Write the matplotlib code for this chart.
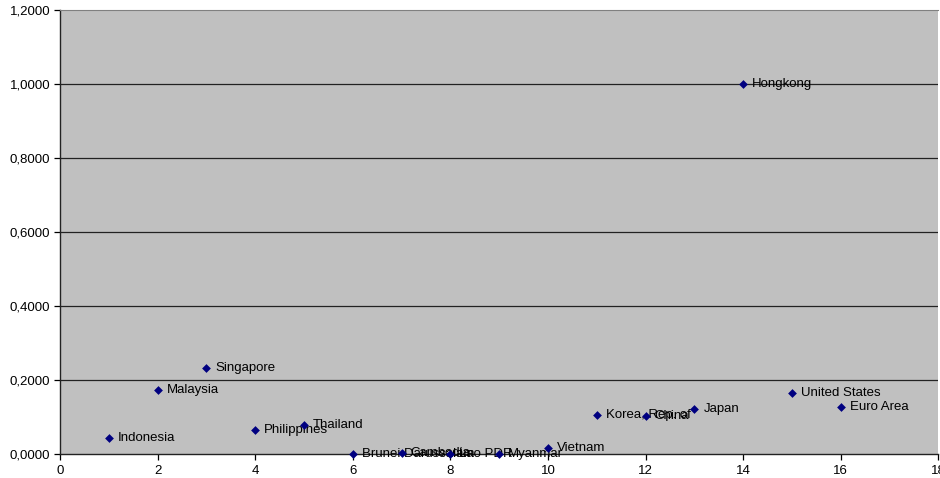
import matplotlib

matplotlib.use("Agg")

import matplotlib.pyplot as plt
import matplotlib.ticker as ticker

plt.rcParams['font.family'] = ['Liberation Sans', 'DejaVu Sans']

# --- Data ---
countries = ['Indonesia', 'Malaysia', 'Singapore', 'Philippines', 'Thailand',
             'Brunei Darussalam', 'Cambodia', 'Lao PDR', 'Myanmar', 'Vietnam',
             'Korea, Rep. of', 'China', 'Japan', 'Hongkong', 'United States',
             'Euro Area']
index = list(range(1, 17))
values = [0.043, 0.173, 0.232, 0.065, 0.078,
          0.0, 0.002, 0.0, 0.0, 0.016,
          0.105, 0.103, 0.122, 1.0, 0.165,
          0.127]

y_ticks = [0.0, 0.2, 0.4, 0.6, 0.8, 1.0, 1.2]
x_ticks = list(range(0, 20, 2))

FS = 9.5

fig = plt.figure(figsize=(9.4, 4.78), dpi=100)
ax = fig.add_axes([0.0638, 0.0502, 0.9345, 0.9288])
ax.set_facecolor('#C0C0C0')

for y in y_ticks[1:-1]:
    ax.axhline(y, color='#222222', linewidth=0.9, zorder=1)

ax.scatter(index, values, marker='D', s=20, color='#000080', zorder=5,
           linewidths=0, clip_on=False)

for x, y, name in zip(index, values, countries):
    ax.annotate(name, (x, y), xytext=(6.5, 0), textcoords='offset points',
                fontsize=FS, va='center', ha='left', color='black', zorder=4)

ax.set_xlim(0, 18)
ax.set_ylim(0, 1.2)
ax.set_xticks(x_ticks)
ax.set_yticks(y_ticks)
ax.yaxis.set_major_formatter(ticker.FuncFormatter(lambda v, p: f"{v:.4f}".replace('.', ',')))

ax.tick_params(axis='both', direction='out', length=4, width=0.9, labelsize=FS, colors='black')
ax.tick_params(axis='x', pad=4)
ax.tick_params(axis='y', pad=3)

for side in ['left', 'bottom']:
    ax.spines[side].set_color('#222222')
    ax.spines[side].set_linewidth(1.0)
ax.spines['top'].set_color('#808080')
ax.spines['top'].set_linewidth(0.8)
ax.spines['right'].set_visible(False)

fig.savefig('out.png', dpi=100)
